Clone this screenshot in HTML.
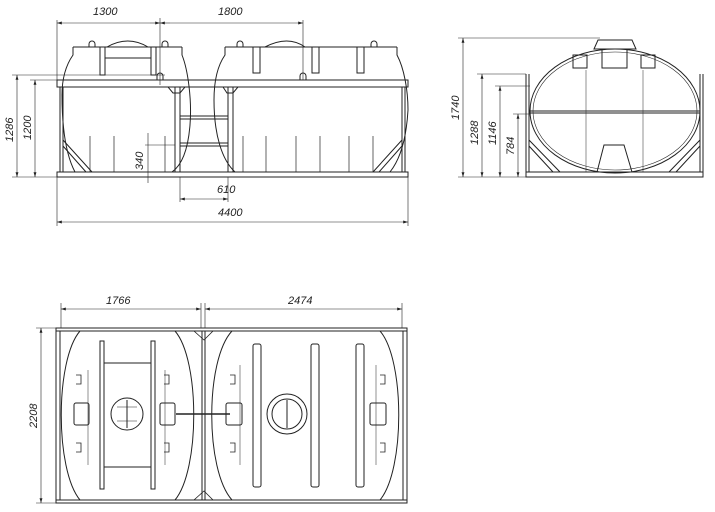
<!DOCTYPE html>
<html><head><meta charset="utf-8"><style>
html,body{margin:0;padding:0;background:#fff;}
svg{display:block;}
text{font-family:"Liberation Sans",sans-serif;font-style:italic;font-size:11px;fill:#222;}
</style></head><body>
<svg width="715" height="512" viewBox="0 0 715 512" xmlns="http://www.w3.org/2000/svg">
<defs>
<marker id="a" viewBox="0 0 10 6" refX="10" refY="3" markerWidth="8" markerHeight="5" orient="auto-start-reverse"><path d="M0,0 L10,3 L0,6z" fill="#222"/></marker>
</defs>
<g stroke="#222" fill="none" stroke-width="1">
<!-- ===== FRONT VIEW ===== -->
<line x1="57" y1="20" x2="57" y2="85" stroke-width=".6"/>
<line x1="160" y1="18" x2="160" y2="85" stroke-width=".6"/>
<line x1="303" y1="20" x2="303" y2="80" stroke-width=".6"/>
<line x1="57" y1="23" x2="150" y2="23" marker-start="url(#a)" stroke-width=".6"/>
<line x1="150" y1="23" x2="160" y2="23" marker-end="url(#a)" stroke-width=".6"/>
<line x1="170" y1="23" x2="160" y2="23" marker-end="url(#a)" stroke-width=".6"/>
<line x1="170" y1="23" x2="303" y2="23" marker-end="url(#a)" stroke-width=".6"/>
<line x1="12" y1="75" x2="165" y2="75" stroke-width=".6"/>
<line x1="30" y1="80" x2="70" y2="80" stroke-width=".6"/>
<line x1="12" y1="177" x2="57" y2="177" stroke-width=".6"/>
<line x1="17" y1="75" x2="17" y2="177" marker-start="url(#a)" marker-end="url(#a)" stroke-width=".6"/>
<line x1="35" y1="80" x2="35" y2="177" marker-start="url(#a)" marker-end="url(#a)" stroke-width=".6"/>
<line x1="148" y1="133" x2="148" y2="183" stroke-width=".6"/>
<line x1="145" y1="145" x2="175" y2="145" stroke-width=".6"/>
<line x1="180" y1="177" x2="180" y2="202" stroke-width=".6"/>
<line x1="228" y1="177" x2="228" y2="202" stroke-width=".6"/>
<line x1="180" y1="199" x2="228" y2="199" marker-start="url(#a)" marker-end="url(#a)" stroke-width=".6"/>
<line x1="57" y1="177" x2="57" y2="226" stroke-width=".6"/>
<line x1="408" y1="177" x2="408" y2="226" stroke-width=".6"/>
<line x1="57" y1="222" x2="408" y2="222" marker-start="url(#a)" marker-end="url(#a)" stroke-width=".6"/>
<!-- frame -->
<rect x="57" y="80" width="351" height="7"/>
<rect x="57" y="172" width="351" height="5"/>
<line x1="60" y1="87" x2="60" y2="172"/><line x1="63" y1="87" x2="63" y2="172"/>
<line x1="402" y1="87" x2="402" y2="172"/><line x1="405" y1="87" x2="405" y2="172"/>
<line x1="175" y1="87" x2="175" y2="172"/><line x1="180" y1="87" x2="180" y2="172"/>
<line x1="228" y1="87" x2="228" y2="172"/><line x1="233" y1="87" x2="233" y2="172"/>
<line x1="180" y1="116" x2="228" y2="116"/><line x1="180" y1="119" x2="228" y2="119"/>
<line x1="180" y1="143" x2="228" y2="143"/><line x1="180" y1="146" x2="228" y2="146"/>
<path d="M168,87 L185,87 L180,93 L173,93z"/><path d="M223,87 L238,87 L233,93 L227,93z"/>
<path d="M63,140 L92,172 M63,146 L86,172"/><path d="M402,140 L373,172 M402,146 L379,172"/>
<!-- left tank -->
<path d="M73,47 L73,55 C66,65 62,78 62,95 C62,130 66,155 75,172"/>
<path d="M182,47 L182,55 C188,70 192,100 190,125 C188,150 182,165 172,172"/>
<line x1="73" y1="47" x2="182" y2="47"/>
<rect x="100" y="47" width="5" height="28"/><rect x="151" y="47" width="5" height="28"/>
<line x1="105" y1="58" x2="151" y2="58"/>
<path d="M107,47 Q128,35 148,47"/>
<path d="M89,47 v-3 a3,3 0 0 1 6,0 v3"/><path d="M162,47 v-3 a3,3 0 0 1 6,0 v3"/>
<path d="M157,80 v-4 a3,3 0 0 1 6,0 v4"/>
<!-- right tank -->
<path d="M225,47 L225,55 C218,65 214,80 214,100 C214,135 222,160 235,172"/>
<path d="M397,47 L397,55 C404,68 408,90 408,110 C406,145 398,162 390,172"/>
<line x1="225" y1="47" x2="397" y2="47"/>
<rect x="253" y="47" width="7" height="26"/><rect x="312" y="47" width="7" height="26"/><rect x="357" y="47" width="7" height="26"/>
<path d="M265,47 Q288,35 305,47"/>
<path d="M237,47 v-3 a3,3 0 0 1 6,0 v3"/><path d="M371,47 v-3 a3,3 0 0 1 6,0 v3"/>
<path d="M300,80 v-4 a3,3 0 0 1 6,0 v4"/>
<g stroke-width=".7">
<line x1="90" y1="136" x2="90" y2="172"/><line x1="114" y1="136" x2="114" y2="172"/><line x1="165" y1="136" x2="165" y2="172"/>
<line x1="243" y1="136" x2="243" y2="172"/><line x1="266" y1="136" x2="266" y2="172"/><line x1="296" y1="136" x2="296" y2="172"/><line x1="320" y1="136" x2="320" y2="172"/><line x1="349" y1="136" x2="349" y2="172"/><line x1="373" y1="136" x2="373" y2="172"/>
</g>
<!-- ===== SIDE VIEW ===== -->
<line x1="458" y1="38" x2="600" y2="38" stroke-width=".6"/>
<line x1="477" y1="74" x2="526" y2="74" stroke-width=".6"/>
<line x1="495" y1="86" x2="530" y2="86" stroke-width=".6"/>
<line x1="513" y1="114" x2="530" y2="114" stroke-width=".6"/>
<line x1="458" y1="177" x2="526" y2="177" stroke-width=".6"/>
<line x1="463" y1="38" x2="463" y2="177" marker-start="url(#a)" marker-end="url(#a)" stroke-width=".6"/>
<line x1="482" y1="74" x2="482" y2="177" marker-start="url(#a)" marker-end="url(#a)" stroke-width=".6"/>
<line x1="500" y1="86" x2="500" y2="177" marker-start="url(#a)" marker-end="url(#a)" stroke-width=".6"/>
<line x1="518" y1="114" x2="518" y2="177" marker-start="url(#a)" marker-end="url(#a)" stroke-width=".6"/>
<ellipse cx="615" cy="111" rx="85" ry="62"/>
<ellipse cx="615" cy="111" rx="82" ry="59" stroke-width=".6"/>
<rect x="526" y="172" width="177" height="5"/>
<line x1="526" y1="74" x2="526" y2="172"/><line x1="529" y1="74" x2="529" y2="172"/>
<line x1="700" y1="74" x2="700" y2="172"/><line x1="703" y1="74" x2="703" y2="172"/>
<line x1="529" y1="111" x2="700" y2="111"/><line x1="529" y1="113" x2="700" y2="113"/>
<path d="M529,140 L560,172 M529,146 L553,172 M700,140 L669,172 M700,146 L676,172"/>
<path d="M594,49 L598,40 L632,40 L636,49 Z"/>
<rect x="602" y="49" width="25" height="19"/><rect x="573" y="55" width="14" height="13"/><rect x="641" y="55" width="14" height="13"/>
<path d="M597,172 L604,145 L624,145 L632,172"/>
<line x1="586" y1="70" x2="586" y2="172" stroke-width=".5"/><line x1="643" y1="70" x2="643" y2="172" stroke-width=".5"/>
<!-- ===== BOTTOM VIEW ===== -->
<line x1="61" y1="303" x2="61" y2="328" stroke-width=".6"/>
<line x1="402" y1="303" x2="402" y2="328" stroke-width=".6"/>
<line x1="61" y1="309" x2="201" y2="309" marker-start="url(#a)" marker-end="url(#a)" stroke-width=".6"/>
<line x1="205" y1="309" x2="402" y2="309" marker-start="url(#a)" marker-end="url(#a)" stroke-width=".6"/>
<line x1="201" y1="303" x2="201" y2="328" stroke-width=".6"/><line x1="205" y1="303" x2="205" y2="328" stroke-width=".6"/>
<line x1="36" y1="328" x2="56" y2="328" stroke-width=".6"/><line x1="36" y1="503" x2="56" y2="503" stroke-width=".6"/>
<line x1="41" y1="328" x2="41" y2="503" marker-start="url(#a)" marker-end="url(#a)" stroke-width=".6"/>
<rect x="56" y="328" width="351" height="175"/>
<line x1="56" y1="331" x2="407" y2="331"/><line x1="56" y1="500" x2="407" y2="500"/>
<line x1="60" y1="331" x2="60" y2="500"/><line x1="403" y1="331" x2="403" y2="500"/>
<line x1="202" y1="331" x2="202" y2="500"/><line x1="205" y1="331" x2="205" y2="500"/>
<path d="M194,331 L213,331 L204,340z M194,500 L213,500 L204,491z" stroke-width=".8"/>
<path d="M80,331 C55,360 55,470 80,500"/><path d="M175,331 C200,360 200,470 175,500"/>
<path d="M232,331 C205,360 205,470 232,500"/><path d="M380,331 C405,360 405,470 380,500"/>
<rect x="100" y="341" width="4" height="148"/><rect x="151" y="341" width="4" height="148"/>
<line x1="104" y1="363" x2="151" y2="363"/><line x1="104" y1="467" x2="151" y2="467"/>
<circle cx="127" cy="414" r="16"/><path d="M117,407 L137,407 M117,421 L137,421" stroke-width=".6"/><line x1="127" y1="400" x2="127" y2="428"/>
<rect x="74" y="403" width="15" height="22" rx="2"/><rect x="160" y="403" width="15" height="22" rx="2"/>
<rect x="253" y="344" width="8" height="143" rx="2"/><rect x="311" y="344" width="8" height="143" rx="2"/><rect x="356" y="344" width="8" height="143" rx="2"/>
<circle cx="287" cy="414" r="20"/><circle cx="287" cy="414" r="15"/><line x1="287" y1="400" x2="287" y2="428"/>
<rect x="226" y="403" width="16" height="22" rx="2"/><rect x="370" y="403" width="16" height="22" rx="2"/>
<line x1="176" y1="414" x2="230" y2="414" stroke-width="1.5"/>
<path d="M76,375 h5 v9 h-5 M76,443 h5 v9 h-5 M164,375 h5 v9 h-5 M164,443 h5 v9 h-5 M230,375 h5 v9 h-5 M230,443 h5 v9 h-5 M380,375 h5 v9 h-5 M380,443 h5 v9 h-5" stroke-width=".8"/>
<path d="M88,370 L88,465 M165,370 L165,465 M240,365 L240,465 M376,365 L376,465" stroke-width=".5"/>
</g>
<text x="93" y="15">1300</text>
<text x="218" y="15">1800</text>
<text x="217" y="193">610</text>
<text x="218" y="216">4400</text>
<text x="106" y="304">1766</text>
<text x="288" y="304">2474</text>
<text transform="translate(13,142) rotate(-90)">1286</text>
<text transform="translate(31,140) rotate(-90)">1200</text>
<text transform="translate(143,170) rotate(-90)">340</text>
<text transform="translate(459,120) rotate(-90)">1740</text>
<text transform="translate(478,145) rotate(-90)">1288</text>
<text transform="translate(496,145) rotate(-90)">1146</text>
<text transform="translate(514,155) rotate(-90)">784</text>
<text transform="translate(37,428) rotate(-90)">2208</text>
</svg>
</body></html>
